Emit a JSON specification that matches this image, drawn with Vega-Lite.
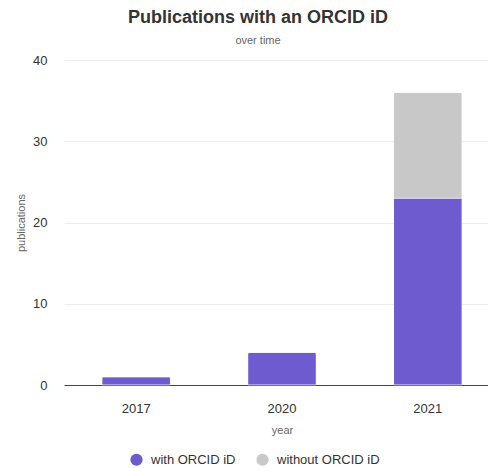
{
  "$schema": "https://vega.github.io/schema/vega-lite/v6.json",
  "width": 424,
  "height": 325,
  "autosize": {"type": "none"},
  "padding": {"left": 64, "top": 60, "right": 0, "bottom": 83},
  "background": "white",
  "config": {
    "font": "Liberation Sans",
    "view": {"stroke": null}
  },
  "title": {
    "text": "Publications with an ORCID iD",
    "subtitle": "over time",
    "anchor": "middle",
    "frame": "group",
    "dx": -18,
    "fontSize": 18,
    "fontWeight": "bold",
    "color": "#333333",
    "subtitleFontSize": 11,
    "subtitleColor": "#666666",
    "subtitlePadding": 8,
    "offset": 8
  },
  "data": {
    "values": [
      {"year": "2017", "status": "with ORCID iD", "publications": 1},
      {"year": "2020", "status": "with ORCID iD", "publications": 4},
      {"year": "2021", "status": "with ORCID iD", "publications": 23},
      {"year": "2021", "status": "without ORCID iD", "publications": 13}
    ]
  },
  "mark": {"type": "bar", "cornerRadiusEnd": 2, "stroke": "white", "strokeWidth": 0.5},
  "encoding": {
    "x": {
      "field": "year",
      "type": "nominal",
      "scale": {"range": [0, 436], "paddingInner": 0.53, "paddingOuter": 0.26},
      "axis": {
        "title": "year",
        "labelAngle": 0,
        "ticks": false,
        "domainColor": "#444444",
        "labelColor": "#333333",
        "labelFontSize": 13,
        "labelPadding": 17,
        "titleFontSize": 11,
        "titleFontWeight": "normal",
        "titleColor": "#666666",
        "titlePadding": 9
      }
    },
    "y": {
      "field": "publications",
      "type": "quantitative",
      "aggregate": "sum",
      "stack": "zero",
      "scale": {"domain": [0, 40]},
      "axis": {
        "title": "publications",
        "values": [0, 10, 20, 30, 40],
        "domain": false,
        "ticks": false,
        "gridColor": "#eeeeee",
        "labelColor": "#333333",
        "labelFontSize": 13,
        "labelPadding": 17,
        "titleFontSize": 11,
        "titleFontWeight": "normal",
        "titleColor": "#666666",
        "titlePadding": 6
      }
    },
    "color": {
      "field": "status",
      "type": "nominal",
      "scale": {"domain": ["with ORCID iD", "without ORCID iD"], "range": ["#6e5bcf", "#c8c8c8"]},
      "legend": {
        "title": null,
        "orient": "none",
        "direction": "horizontal",
        "legendX": 66,
        "legendY": 393,
        "symbolType": "circle",
        "symbolSize": 150,
        "symbolStrokeWidth": 0,
        "labelFontSize": 13,
        "labelColor": "#333333",
        "columnPadding": 20,
        "labelOffset": 8
      }
    },
    "order": {"field": "status", "sort": "ascending"}
  }
}
